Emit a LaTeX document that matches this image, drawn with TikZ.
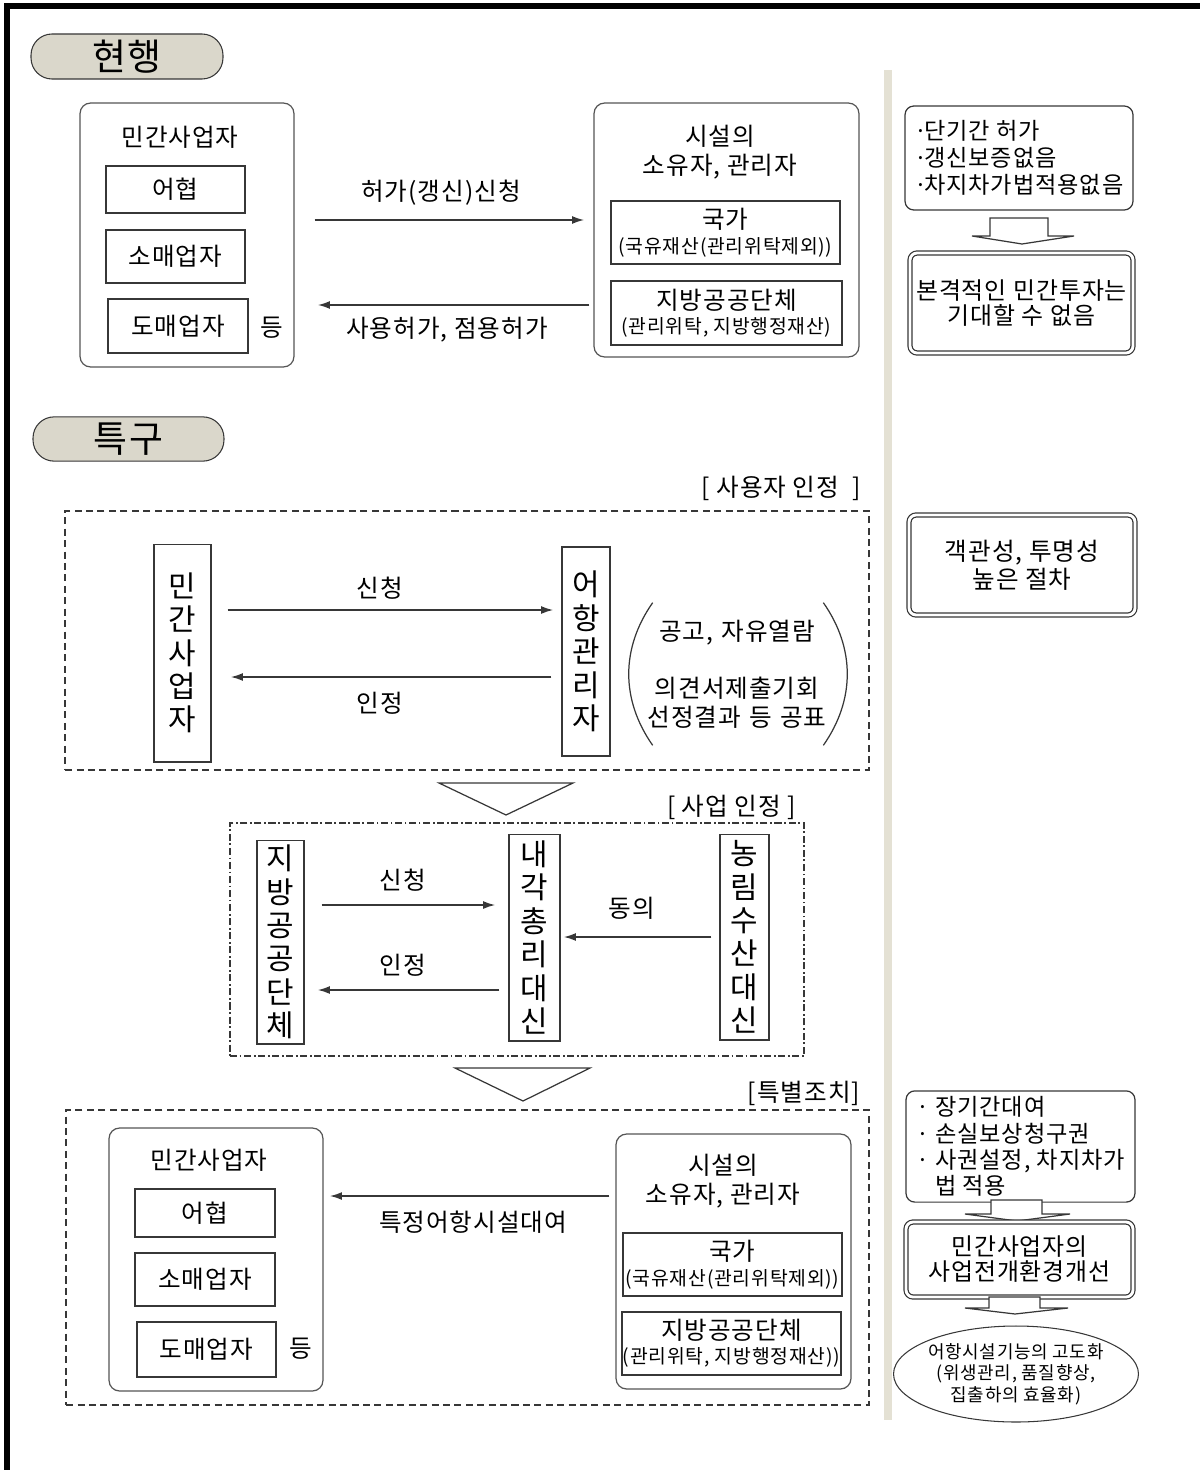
\documentclass[tikz,border=0pt]{standalone}
\usepackage{fontspec}
\setmainfont{Noto Sans CJK KR}[LetterSpace=4]
\usepackage{tikz}
\usetikzlibrary{arrows.meta,shapes.geometric}
\definecolor{pillfill}{RGB}{218,215,203}
\definecolor{divline}{RGB}{228,225,212}
\definecolor{ink}{RGB}{55,55,55}
\tikzset{>={Latex[length=7pt,width=4.5pt]}}
\tikzset{
  pill/.style={draw=ink, fill=pillfill, line width=0.6pt, rounded corners=12pt, font=\fontsize{21}{24}\selectfont},
  outerbox/.style={draw=ink!85, line width=0.7pt, rounded corners=6pt},
  itembox/.style={draw=ink, line width=0.8pt},
  ownbox/.style={draw=ink, line width=0.8pt, align=center, inner sep=0pt},
  vbox/.style={draw=ink, line width=0.6pt, align=center, inner sep=1pt, font=\fontsize{17}{19}\selectfont},
  notebox/.style={draw=ink, line width=0.7pt, rounded corners=5pt, align=left, font=\fontsize{13.2}{15.4}\selectfont},
  dblbox/.style={draw=ink, double, double distance=1.6pt, line width=0.7pt, rounded corners=4pt, align=center},
  dashbox/.style={draw=ink, line width=0.8pt, dash pattern=on 4pt off 2.5pt},
  dotbox/.style={draw=ink, line width=0.8pt, dash pattern=on 4pt off 1.5pt on 1pt off 1.5pt},
  flow/.style={->, draw=ink, line width=1.1pt},
  hollow/.style={draw=ink, line width=0.7pt, fill=white},
}

\begin{document}
\begin{tikzpicture}[x=0.02cm, y=-0.02cm, every node/.style={font=\fontsize{14}{16.5}\selectfont}]
  \useasboundingbox (0,0) rectangle (1200,1470);
  % page frame and the column divider
  \draw[line width=3pt] (7,1470) -- (7,6) -- (1200,6);
  \draw[divline, line width=4pt] (888,70) -- (888,1420);

  % --- current system
  \node[pill, minimum width=3.84cm, minimum height=0.86cm] (cur) at (127,56.5) {현행};
  \node[outerbox, minimum width=4.28cm, minimum height=5.28cm] (priv1) at (187,235) {};
  \node (priv1t) at (180,137) {민간사업자};
  \node[itembox, minimum width=2.78cm, minimum height=0.94cm] (coop1) at (175.5,189.5) {어협};
  \node[itembox, minimum width=2.78cm, minimum height=1.06cm] (retail1) at (175.5,256.5) {소매업자};
  \node[itembox, minimum width=2.8cm, minimum height=1.08cm] (whole1) at (178,326) {도매업자};
  \node (etc1) at (272,328) {등};
  \node[outerbox, minimum width=5.3cm, minimum height=5.08cm] (own1) at (726.5,230) {};
  \node[align=center] (own1t) at (720,152.5) {시설의\\소유자, 관리자};
  \node[ownbox, minimum width=4.58cm, minimum height=1.26cm] (state1) at (725.5,232.5) {국가\\[-2pt]{\fontsize{11}{12}\selectfont (국유재산(관리위탁제외))}};
  \node[ownbox, minimum width=4.62cm, minimum height=1.28cm] (local1) at (726.5,313) {지방공공단체\\[-3pt]{\fontsize{11}{12}\selectfont (관리위탁, 지방행정재산)}};
  \draw[flow, shorten <=0.4cm, shorten >=0.18cm] (priv1.east |- 0,220) -- (own1.west |- 0,220);
  \node (req1) at (441,193) {허가(갱신)신청};
  \draw[flow, shorten <=0.08cm, shorten >=0.46cm] (own1.west |- 0,305) -- (priv1.east |- 0,305);
  \node (perm1) at (447,330) {사용허가, 점용허가};

  \node[notebox, minimum width=4.56cm, minimum height=2.08cm] (note1) at (1019,158) {·\kern-2pt 단기간 허가\\·\kern-2pt 갱신보증없음\\·\kern-2pt 차지차가법적용없음};
  \draw[hollow] (990,218) -- (1048,218) -- (1048,236) -- (1074,236) -- (1022,244) -- (972,236) -- (990,236) -- cycle;
  \node[dblbox, minimum width=4.46cm, minimum height=2cm, font=\fontsize{13.6}{14.7}\selectfont] (res1) at (1021.5,303) {본격적인 민간투자는\\기대할 수 없음};

  % --- special zone
  \node[pill, minimum width=3.82cm, minimum height=0.84cm] (zone) at (128.5,439) {특구};

  \node (tag1) at (781,488) {[ 사용자 인정 \ ]};
  \node[dashbox, minimum width=16.08cm, minimum height=5.18cm] (step1) at (467,640.5) {};
  \node[vbox, minimum width=1.14cm, minimum height=4.36cm] (priv2) at (182.5,653) {민\\간\\사\\업\\자};
  \node[vbox, minimum width=0.96cm, minimum height=4.18cm] (port) at (586,651.5) {어\\항\\관\\리\\자};
  \draw[flow, shorten <=0.32cm, shorten >=0.16cm] (priv2.east |- 0,610) -- (port.west |- 0,610);
  \node (req2) at (380,588) {신청};
  \draw[flow, shorten <=0.2cm, shorten >=0.38cm] (port.west |- 0,677) -- (priv2.east |- 0,677);
  \node (ack2) at (380,703) {인정};
  \node[text width=3.8cm, align=center, minimum height=2.84cm, inner sep=0pt] (pub) at (737,674) {공고, 자유열람\\[16pt]의견서제출기회\\선정결과 등 공표};
  \draw[ink, line width=0.7pt] ([xshift=0.22cm]pub.north west) to[bend right=35] ([xshift=0.22cm]pub.south west);
  \draw[ink, line width=0.7pt] ([xshift=-0.18cm]pub.north east) to[bend left=35] ([xshift=-0.18cm]pub.south east);
  \node[dblbox, minimum width=4.52cm, minimum height=2cm, font=\fontsize{14}{15.9}\selectfont] (res2) at (1022,565) {객관성, 투명성\\높은 절차};

  \draw[hollow] (439,783) -- (573,783) -- (506,815) -- cycle;

  \node (tag2) at (731.5,807) {[ 사업 인정 ]};
  \node[dotbox, minimum width=11.48cm, minimum height=4.66cm] (step2) at (517,939.5) {};
  \node[vbox, minimum width=0.94cm, minimum height=4.08cm] (local2) at (280.5,942) {지\\방\\공\\공\\단\\체};
  \node[vbox, minimum width=1.02cm, minimum height=4.14cm] (pm) at (534.5,937.5) {내\\각\\총\\리\\대\\신};
  \node[vbox, minimum width=0.98cm, minimum height=4.12cm] (fish) at (744.5,937) {농\\림\\수\\산\\대\\신};
  \draw[flow, shorten <=0.34cm, shorten >=0.26cm] (local2.east |- 0,905) -- (pm.west |- 0,905);
  \node (req3) at (403,880) {신청};
  \draw[flow, shorten <=0.18cm, shorten >=0.26cm] (pm.west |- 0,990) -- (local2.east |- 0,990);
  \node (ack3) at (403,965) {인정};
  \draw[flow, shorten <=0.16cm, shorten >=0.06cm] (fish.west |- 0,937) -- (pm.east |- 0,937);
  \node (agree) at (632,908) {동의};

  \draw[hollow] (455,1068) -- (590,1068) -- (523,1101) -- cycle;

  \node (tag3) at (804,1093) {[특별조치]};
  \node[dashbox, minimum width=16.06cm, minimum height=5.9cm] (step3) at (467.5,1257.5) {};
  \node[outerbox, minimum width=4.28cm, minimum height=5.26cm] (priv3) at (216,1259.5) {};
  \node (priv3t) at (209,1160) {민간사업자};
  \node[itembox, minimum width=2.8cm, minimum height=0.96cm] (coop3) at (205,1213) {어협};
  \node[itembox, minimum width=2.8cm, minimum height=1.06cm] (retail3) at (205,1279.5) {소매업자};
  \node[itembox, minimum width=2.78cm, minimum height=1.1cm] (whole3) at (206.5,1349.5) {도매업자};
  \node (etc3) at (301,1349) {등};
  \node[outerbox, minimum width=4.7cm, minimum height=5.1cm] (own3) at (733.5,1261.5) {};
  \node[align=center] (own3t) at (723,1181) {시설의\\소유자, 관리자};
  \node[ownbox, minimum width=4.38cm, minimum height=1.26cm] (state3) at (732.5,1264.5) {국가\\[-2pt]{\fontsize{11}{12}\selectfont (국유재산(관리위탁제외))}};
  \node[ownbox, minimum width=4.38cm, minimum height=1.26cm] (local3) at (731.5,1343.5) {지방공공단체\\[-3pt]{\fontsize{11}{12}\selectfont (관리위탁, 지방행정재산))}};
  \draw[flow, shorten <=0.12cm, shorten >=0.12cm] (own3.west |- 0,1196) -- (priv3.east |- 0,1196);
  \node (lease) at (473,1222) {특정어항시설대여};

  \node[notebox, minimum width=4.58cm, minimum height=2.14cm, font=\fontsize{13.2}{14.9}\selectfont] (note3) at (1020.5,1146.5) {· 장기간대여\\· 손실보상청구권\\· 사권설정, 차지차가\\\phantom{·} 법 적용};
  \draw[hollow] (991,1200) -- (1042,1200) -- (1042,1214) -- (1070,1214) -- (1017,1221) -- (965,1214) -- (991,1214) -- cycle;
  \node[dblbox, minimum width=4.54cm, minimum height=1.5cm, font=\fontsize{13.6}{14.2}\selectfont] (res3) at (1019.5,1259.5) {민간사업자의\\사업전개환경개선};
  \draw[hollow] (989,1297) -- (1040,1297) -- (1040,1308) -- (1068,1308) -- (1015,1314) -- (965,1308) -- (989,1308) -- cycle;
  \node[ellipse, draw=ink, line width=0.6pt, minimum width=4.9cm, minimum height=1.92cm, align=center, inner xsep=-10pt, inner ysep=-6pt, font=\fontsize{10.2}{12.2}\selectfont] (goal) at (1016,1374) {어항시설기능의 고도화\\(위생관리, 품질향상,\\집출하의 효율화)};
\end{tikzpicture}
\end{document}
